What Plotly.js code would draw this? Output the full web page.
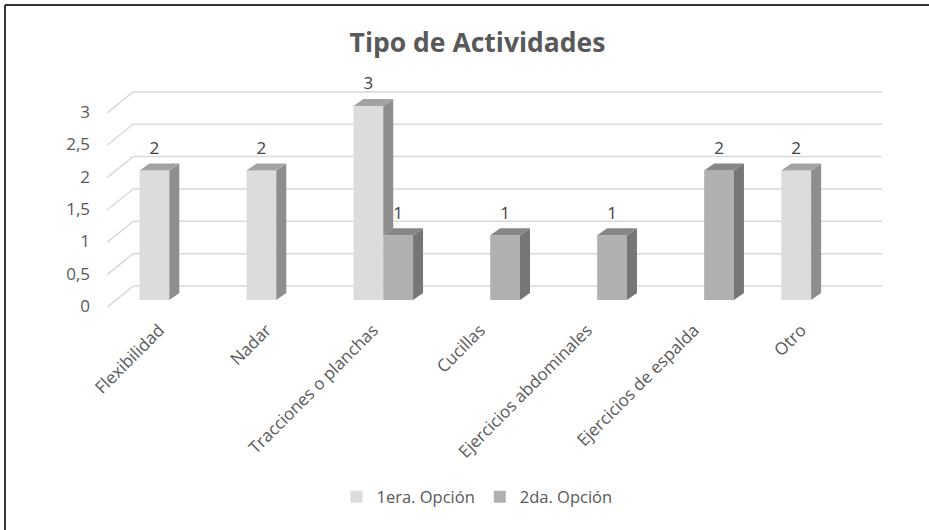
<!DOCTYPE html>
<html><head><meta charset="utf-8">
<script src="https://cdn.plot.ly/plotly-3.0.1.min.js"></script>
<style>html,body{margin:0;padding:0;background:#fff}</style>
</head><body><div id="chart" style="width:929px;height:530px"></div>
<script>
// ---- data ----
const categories = ['Flexibilidad','Nadar','Tracciones o planchas','Cucillas','Ejercicios abdominales','Ejercicios de espalda','Otro'];
const seriesNames = ['1era. Opción','2da. Opción'];
const opcion1 = [2, 2, 3, null, null, null, 2];
const opcion2 = [null, null, 1, 1, 1, 2, null];
const yTicks = [0, 0.5, 1, 1.5, 2, 2.5, 3];
const chartTitle = 'Tipo de Actividades';

// ---- styles ----
const FRONT = ['#dcdcdc', '#b0b0b0'];
const SIDE  = ['#8e8e8e', '#767676'];
const TOP   = ['#a3a3a3', '#868686'];
const TXT = '#595959';
const FONT = '"Open Sans", Lato, sans-serif';

const BARGAP = 0.443;
const W = (1 - BARGAP) / 2;
const PX_X = 107, PX_Y = 64.7;
const DDX = 10 / PX_X, DDY = 7 / PX_Y;            // bar depth
const BACK_DX = 17.3 / PX_X, BACK_DY = 14 / PX_Y; // back wall offset
const FRONT_DX = -8.7 / PX_X, FRONT_DY = -7 / PX_Y; // floor front offset
const LABEL_DY = 21 / PX_Y;

const idx = categories.map((_, i) => i);
const series = [opcion1, opcion2];

const traces = [];
// front faces (bars)
series.forEach((vals, s) => {
  traces.push({
    type: 'bar', x: idx, y: vals, name: seriesNames[s],
    marker: {color: FRONT[s], line: {width: 0}},
    hoverinfo: 'skip'
  });
});

// 3D side/top faces + labels
const labX = [], labY = [], labT = [];
series.forEach((vals, s) => {
  vals.forEach((v, i) => {
    if (v === null || v === undefined) return;
    const c = i + (s === 0 ? -W / 2 : W / 2);
    const x0 = c - W / 2, x1 = c + W / 2;
    let base = 0;
    if (s === 0 && opcion2[i] !== null && opcion2[i] !== undefined) base = Math.min(opcion2[i], v);
    traces.push({
      type: 'scatter', mode: 'lines', fill: 'toself', fillcolor: SIDE[s],
      line: {width: 0}, showlegend: false, hoverinfo: 'skip',
      x: [x1, x1 + DDX, x1 + DDX, x1, x1],
      y: [base, base + DDY, v + DDY, v, base]
    });
    traces.push({
      type: 'scatter', mode: 'lines', fill: 'toself', fillcolor: TOP[s],
      line: {width: 0}, showlegend: false, hoverinfo: 'skip',
      x: [x0, x0 + DDX, x1 + DDX, x1, x0],
      y: [v, v + DDY, v + DDY, v, v]
    });
    labX.push(c); labY.push(v + LABEL_DY); labT.push(String(v));
  });
});
traces.push({
  type: 'scatter', mode: 'text', x: labX, y: labY, text: labT,
  textfont: {family: FONT, size: 17, color: '#404040'},
  showlegend: false, hoverinfo: 'skip', cliponaxis: false
});

// gridlines (back wall + left wall diagonals)
const xMin = -0.5, xMax = categories.length - 0.5;
const shapes = [];
yTicks.forEach(t => {
  shapes.push({type: 'line', xref: 'x', yref: 'y', layer: 'below',
    x0: xMin + BACK_DX, x1: xMax + BACK_DX, y0: t + BACK_DY, y1: t + BACK_DY,
    line: {color: '#d9d9d9', width: 1.5}});
  shapes.push({type: 'line', xref: 'x', yref: 'y', layer: 'below',
    x0: xMin + FRONT_DX, x1: xMin + BACK_DX, y0: t + FRONT_DY, y1: t + BACK_DY,
    line: {color: '#d9d9d9', width: 1.5}});
});
// chart frame (top & left edges)
const fy = (530 - 217 - 5) / 233, fx = -98 / 783;
shapes.push({type: 'line', xref: 'paper', yref: 'paper', x0: fx, x1: (929 - 103) / 783, y0: fy, y1: fy, line: {color: '#333', width: 2}});
shapes.push({type: 'line', xref: 'paper', yref: 'paper', x0: fx, x1: fx, y0: fy, y1: -217 / 233, line: {color: '#333', width: 2}});

const layout = {
  width: 929, height: 530,
  margin: {l: 103, r: 43, t: 80, b: 217},
  paper_bgcolor: '#fff', plot_bgcolor: 'rgba(0,0,0,0)',
  separators: ',.',
  font: {family: FONT, color: TXT},
  title: {text: chartTitle, x: 477.5 / 929, xref: 'container', xanchor: 'center',
          y: 1 - 43 / 530, yref: 'container', yanchor: 'middle',
          font: {family: FONT, size: 26.5, color: TXT, weight: 'bold'}},
  barmode: 'group', bargap: BARGAP, bargroupgap: 0,
  xaxis: {range: [-0.62, 6.70], tickvals: idx, ticktext: categories, tickangle: -45,
          showgrid: false, zeroline: false, showline: false, ticks: '',
          ticklabelshift: -10, ticklabelstandoff: 3,
          tickfont: {family: FONT, size: 17, color: TXT}, fixedrange: true},
  yaxis: {range: [-0.2, 3.4], tickvals: yTicks, showgrid: false, zeroline: false,
          showline: false, ticks: '', ticklabelstandoff: 12, ticklabelshift: 6,
          tickfont: {family: FONT, size: 17, color: TXT}, fixedrange: true},
  legend: {orientation: 'h', x: (477 - 103) / 783, xanchor: 'center', y: -0.79, yanchor: 'middle',
           font: {family: FONT, size: 16.5, color: TXT}, itemwidth: 30},
  shapes: shapes,
  showlegend: true
};

Plotly.newPlot('chart', traces, layout, {displayModeBar: false, staticPlot: true});
</script></body></html>
